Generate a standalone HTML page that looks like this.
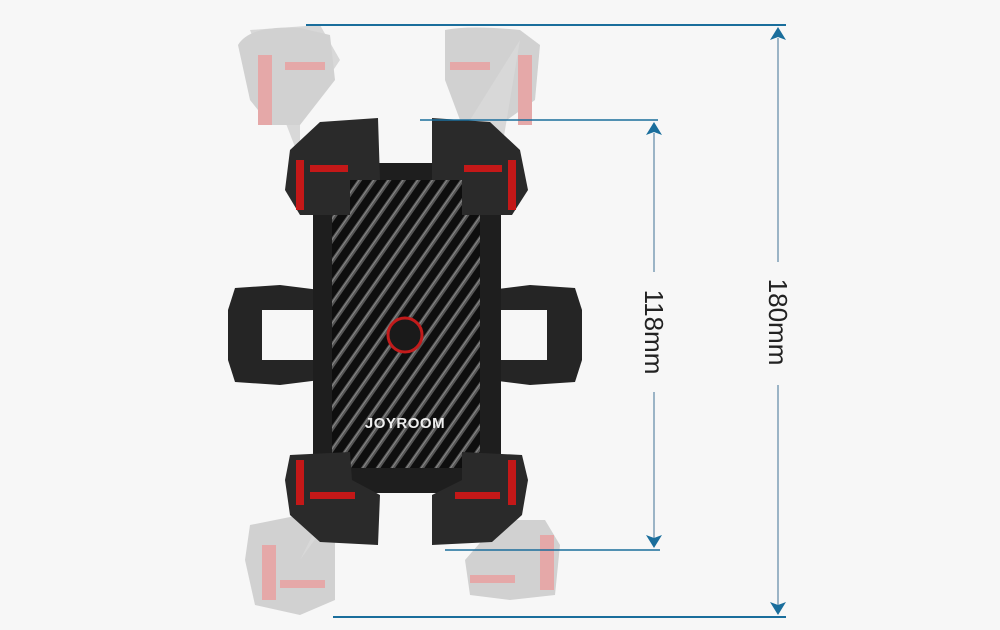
<!DOCTYPE html>
<html><head><style>
html,body{margin:0;padding:0;background:#f7f7f7;}
svg{display:block}
text{font-family:"Liberation Sans",sans-serif}
</style></head><body>
<svg width="1000" height="630" viewBox="0 0 1000 630" xmlns="http://www.w3.org/2000/svg">
<defs>
<pattern id="cf" width="12" height="12" patternUnits="userSpaceOnUse" patternTransform="rotate(-55)">
<rect width="12" height="12" fill="#0e0e0e"/>
<rect width="12" height="4" fill="#555"/>
<rect y="1" width="12" height="1" fill="#888"/>
</pattern>
</defs>
<rect width="1000" height="630" fill="#f7f7f7"/>
<!-- ghost grips -->
<g opacity="0.4">
<path d="M300 160 L250 30 L320 25 L340 60 L300 120 Z" fill="#aaa"/>
<path d="M238 45 Q250 25 300 28 L330 35 L335 80 L300 125 L270 125 L250 100 Z" fill="#999"/>
<rect x="258" y="55" width="14" height="70" fill="#c33"/>
<rect x="285" y="62" width="40" height="8" fill="#c33"/>
<path d="M445 30 Q470 25 520 30 L540 45 L535 100 L500 125 L460 120 L445 80 Z" fill="#999"/>
<path d="M470 120 L520 40 L500 160 Z" fill="#aaa"/>
<rect x="518" y="55" width="14" height="70" fill="#c33"/>
<rect x="450" y="62" width="40" height="8" fill="#c33"/>
<path d="M250 525 L300 515 L335 530 L335 600 L300 615 L255 605 L245 560 Z" fill="#999"/>
<rect x="262" y="545" width="14" height="55" fill="#c33"/>
<rect x="280" y="580" width="45" height="8" fill="#c33"/>
<path d="M465 560 L500 520 L545 520 L560 545 L555 595 L510 600 L470 595 Z" fill="#999"/>
<rect x="540" y="535" width="14" height="55" fill="#c33"/>
<rect x="470" y="575" width="45" height="8" fill="#c33"/>
<path d="M330 500 L380 450 L300 560 Z" fill="#aaa"/>
<path d="M470 460 L500 520 L480 530 Z" fill="#aaa"/>
</g>
<!-- side arms -->
<path d="M235 288 L280 285 L320 290 L320 380 L280 385 L235 382 L228 360 L228 310 Z" fill="#252525"/>
<rect x="262" y="310" width="58" height="50" fill="#f7f7f7"/>
<path d="M490 290 L530 285 L575 288 L582 310 L582 360 L575 382 L530 385 L490 380 Z" fill="#252525"/>
<rect x="490" y="310" width="57" height="50" fill="#f7f7f7"/>
<!-- body -->
<rect x="313" y="163" width="188" height="330" rx="14" fill="#1e1e1e"/>
<rect x="332" y="180" width="148" height="288" rx="16" fill="url(#cf)"/>
<circle cx="405" cy="335" r="17" fill="#1a1a1a" stroke="#c21b1b" stroke-width="3"/>
<text x="405" y="428" text-anchor="middle" fill="#eee" font-size="15" font-weight="bold" letter-spacing="0.5">JOYROOM</text>
<!-- grips -->
<g fill="#2a2a2a">
<path d="M290 150 L320 122 L378 118 L380 180 L350 180 L350 215 L300 215 L285 190 Z"/>
<path d="M432 118 L490 122 L520 150 L528 190 L512 215 L462 215 L462 180 L432 180 Z"/>
<path d="M290 455 L350 452 L352 480 L380 495 L378 545 L320 542 L290 515 L285 480 Z"/>
<path d="M462 452 L522 455 L528 480 L522 515 L492 542 L432 545 L432 495 L462 480 Z"/>
</g>
<g fill="#c41818">
<rect x="296" y="160" width="8" height="50"/>
<rect x="310" y="165" width="38" height="7"/>
<rect x="508" y="160" width="8" height="50"/>
<rect x="464" y="165" width="38" height="7"/>
<rect x="296" y="460" width="8" height="45"/>
<rect x="310" y="492" width="45" height="7"/>
<rect x="508" y="460" width="8" height="45"/>
<rect x="455" y="492" width="45" height="7"/>
</g>
<!-- dimension lines -->
<g stroke="#1a6e9c" fill="none">
<line x1="306" y1="25" x2="786" y2="25" stroke-width="2"/>
<line x1="333" y1="617" x2="786" y2="617" stroke-width="2"/>
<line x1="420" y1="120" x2="658" y2="120" stroke-width="1.5"/>
<line x1="445" y1="550" x2="660" y2="550" stroke-width="1.5"/>
<g stroke="#7d9db5" stroke-width="1.5">
<line x1="778" y1="38" x2="778" y2="262"/>
<line x1="778" y1="385" x2="778" y2="605"/>
<line x1="654" y1="133" x2="654" y2="272"/>
<line x1="654" y1="392" x2="654" y2="538"/>
</g>
</g>
<g fill="#1a6e9c">
<path d="M778 27 L786 40 L778 37 L770 40 Z"/>
<path d="M778 615 L786 602 L778 605 L770 602 Z"/>
<path d="M654 122 L662 135 L654 132 L646 135 Z"/>
<path d="M654 548 L662 535 L654 538 L646 535 Z"/>
</g>
<text transform="translate(769,322) rotate(90)" text-anchor="middle" font-size="26" fill="#222">180mm</text>
<text transform="translate(645,332) rotate(90)" text-anchor="middle" font-size="26" fill="#222">118mm</text>
</svg>
</body></html>
